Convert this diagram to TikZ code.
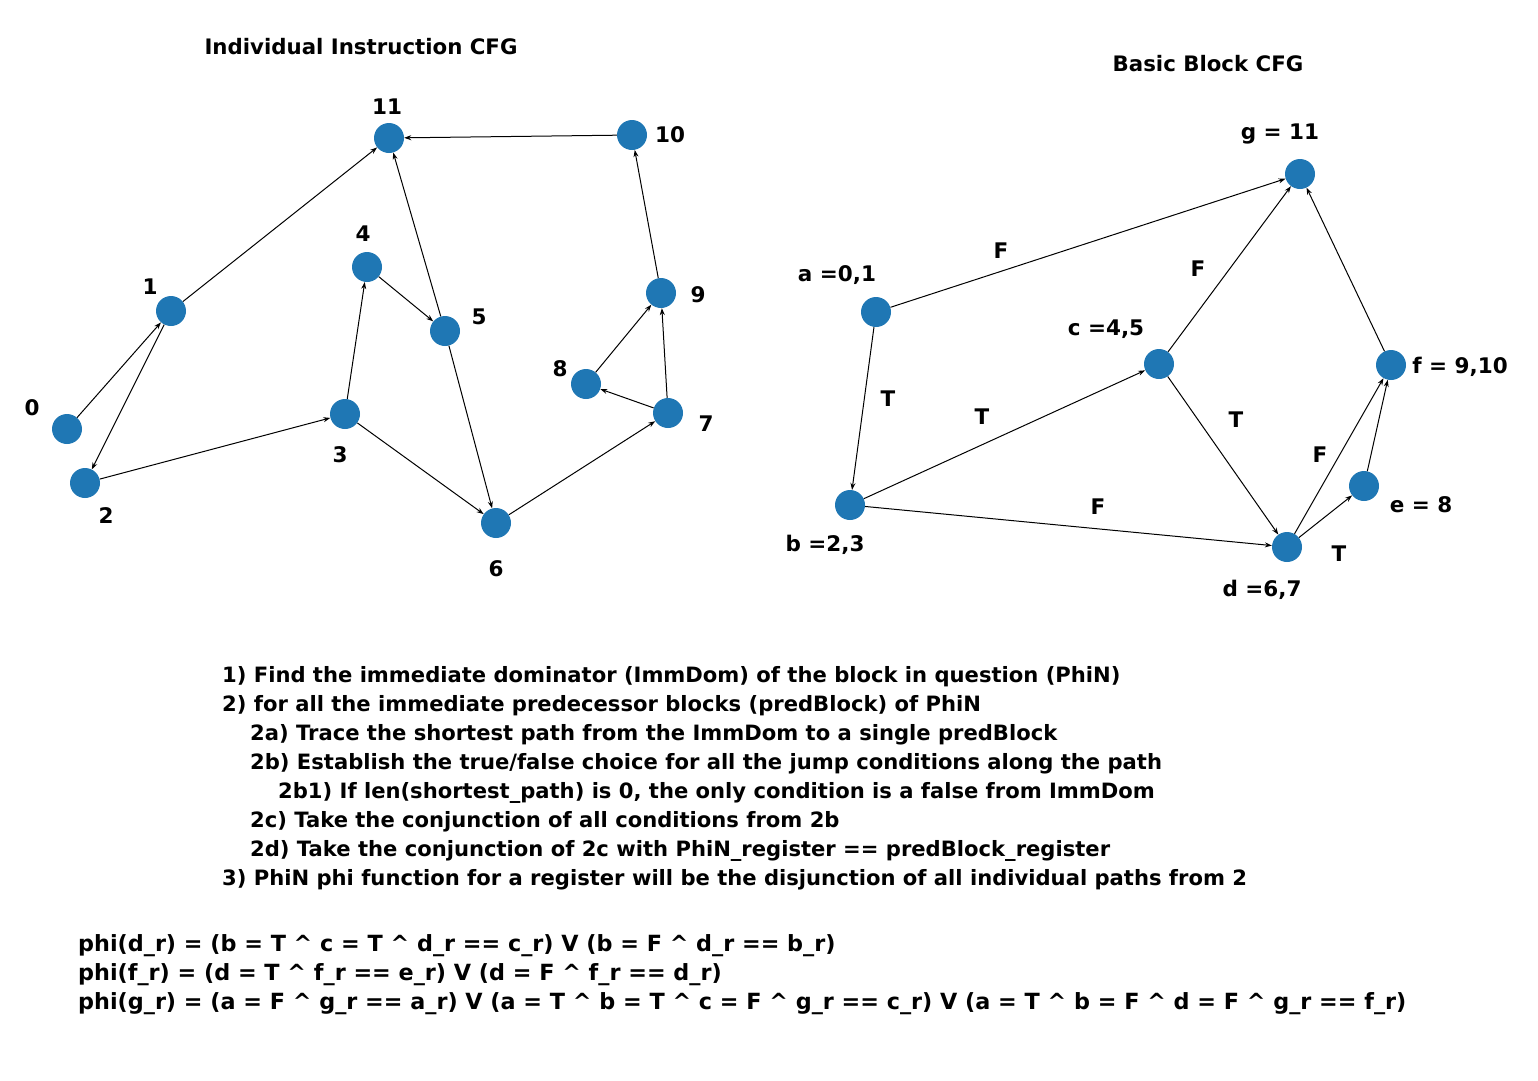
\documentclass[tikz,border=0pt]{standalone}
\usepackage{fontspec}
\setmainfont{DejaVu Sans}
\usepackage{xcolor}
\usepackage{tikz}
\usetikzlibrary{arrows.meta}
\definecolor{nxblue}{HTML}{1F77B4}
\newcommand{\wedgeop}{\textasciicircum{}}

\tikzset{
  vtx/.style={circle, fill=nxblue, minimum size=30pt, inner sep=0pt},
  num/.style={font=\fontsize{21.5}{21.5}\selectfont\bfseries, inner sep=0pt},
  title/.style={font=\fontsize{21.3}{21.3}\selectfont\bfseries, inner sep=0pt},
  rule/.style={font=\fontsize{21.1}{21.1}\selectfont\bfseries, anchor=west, inner sep=0pt, yshift=-2pt},
  formula/.style={font=\fontsize{22.3}{22.3}\selectfont\bfseries, anchor=west, inner sep=0pt, yshift=-2pt},
  edge/.style={-{Stealth[length=7pt,width=5pt]}, line width=1pt}
}

\begin{document}
\begin{tikzpicture}[x=1pt, y=-1pt]
\useasboundingbox (0,0) rectangle (1538,1080);

\node [title] (leftTitle) at (361,47) { Individual Instruction CFG };
\node [title] (rightTitle) at (1208,64) { Basic Block CFG };

\node [vtx] (n0) at (67,429) {};
\node [vtx] (n1) at (171,311) {};
\node [vtx] (n2) at (85,483) {};
\node [vtx] (n3) at (345,414) {};
\node [vtx] (n4) at (367,267) {};
\node [vtx] (n5) at (445,331) {};
\node [vtx] (n6) at (496,523) {};
\node [vtx] (n7) at (668,413) {};
\node [vtx] (n8) at (586,384) {};
\node [vtx] (n9) at (661,293) {};
\node [vtx] (n10) at (632,135) {};
\node [vtx] (n11) at (389,138) {};

\node [num] (l0) at ([shift={(-35,-21)}]n0) { 0 };
\node [num] (l1) at ([shift={(-21,-24)}]n1) { 1 };
\node [num] (l2) at ([shift={(21,33)}]n2) { 2 };
\node [num] (l3) at ([shift={(-5,41)}]n3) { 3 };
\node [num] (l4) at ([shift={(-4,-33)}]n4) { 4 };
\node [num] (l5) at ([shift={(34,-14)}]n5) { 5 };
\node [num] (l6) at ([shift={(0,46)}]n6) { 6 };
\node [num] (l7) at ([shift={(38,11)}]n7) { 7 };
\node [num] (l8) at ([shift={(-26,-15)}]n8) { 8 };
\node [num] (l9) at ([shift={(37,2)}]n9) { 9 };
\node [num] (l10) at ([shift={(38,0)}]n10) { 10 };
\node [num] (l11) at ([shift={(-2,-31)}]n11) { 11 };

\draw [edge] (n0) -- (n1);
\draw [edge] (n1) -- (n2);
\draw [edge] (n1) -- (n11);
\draw [edge] (n2) -- (n3);
\draw [edge] (n3) -- (n4);
\draw [edge] (n3) -- (n6);
\draw [edge] (n4) -- (n5);
\draw [edge] (n5) -- (n11);
\draw [edge] (n5) -- (n6);
\draw [edge] (n6) -- (n7);
\draw [edge] (n7) -- (n8);
\draw [edge] (n7) -- (n9);
\draw [edge] (n8) -- (n9);
\draw [edge] (n9) -- (n10);
\draw [edge] (n10) -- (n11);

\node [vtx] (ba) at (876,312) {};
\node [vtx] (bb) at (850,505) {};
\node [vtx] (bc) at (1159,364) {};
\node [vtx] (bd) at (1287,547) {};
\node [vtx] (be) at (1364,486) {};
\node [vtx] (bf) at (1391,365) {};
\node [vtx] (bg) at (1300,174) {};

\node [num] (la) at ([shift={(-39,-37)}]ba) { a =0,1 };
\node [num] (lb) at ([shift={(-25,40)}]bb) { b =2,3 };
\node [num] (lc) at ([shift={(-53,-35)}]bc) { c =4,5 };
\node [num] (ld) at ([shift={(-25,43)}]bd) { d =6,7 };
\node [num] (le) at ([shift={(57,19)}]be) { e = 8 };
\node [num] (lf) at ([shift={(69,2)}]bf) { f = 9,10 };
\node [num] (lg) at ([shift={(-20,-40)}]bg) { g = 11 };

\draw [edge] (ba) -- (bg);
\draw [edge] (ba) -- (bb);
\draw [edge] (bb) -- (bc);
\draw [edge] (bb) -- (bd);
\draw [edge] (bc) -- (bg);
\draw [edge] (bc) -- (bd);
\draw [edge] (bd) -- (bf);
\draw [edge] (bd) -- (be);
\draw [edge] (be) -- (bf);
\draw [edge] (bf) -- (bg);

\node [num] (fAG) at (1001,251) { F };
\node [num] (tAB) at (888,399) { T };
\node [num] (tBC) at (982,417) { T };
\node [num] (fBD) at (1098,507) { F };
\node [num] (fCG) at (1198,269) { F };
\node [num] (tCD) at (1236,420) { T };
\node [num] (fDF) at (1320,455) { F };
\node [num] (tDE) at (1339,554) { T };

\node [rule] (step1) at (222,675) { 1) Find the immediate dominator (ImmDom) of the block in question (PhiN) };
\node [rule] (step2) at (222,704) { 2) for all the immediate predecessor blocks (predBlock) of PhiN };
\node [rule] (step2a) at (250,733) { 2a) Trace the shortest path from the ImmDom to a single predBlock };
\node [rule] (step2b) at (250,762) { 2b) Establish the true/false choice for all the jump conditions along the path };
\node [rule] (step2b1) at (278,791) { 2b1) If len(shortest\_path) is 0, the only condition is a false from ImmDom };
\node [rule] (step2c) at (250,820) { 2c) Take the conjunction of all conditions from 2b };
\node [rule] (step2d) at (250,849) { 2d) Take the conjunction of 2c with PhiN\_register == predBlock\_register };
\node [rule] (step3) at (222,878) { 3) PhiN phi function for a register will be the disjunction of all individual paths from 2 };

\node [formula] (phiD) at (78,944) { phi(d\_r) = (b = T \wedgeop\ c = T \wedgeop\ d\_r == c\_r) V (b = F \wedgeop\ d\_r == b\_r) };
\node [formula] (phiF) at (78,973) { phi(f\_r) = (d = T \wedgeop\ f\_r == e\_r) V (d = F \wedgeop\ f\_r == d\_r) };
\node [formula] (phiG) at (78,1002) { phi(g\_r) = (a = F \wedgeop\ g\_r == a\_r) V (a = T \wedgeop\ b = T \wedgeop\ c = F \wedgeop\ g\_r == c\_r) V (a = T \wedgeop\ b = F \wedgeop\ d = F \wedgeop\ g\_r == f\_r) };
\end{tikzpicture}
\end{document}
